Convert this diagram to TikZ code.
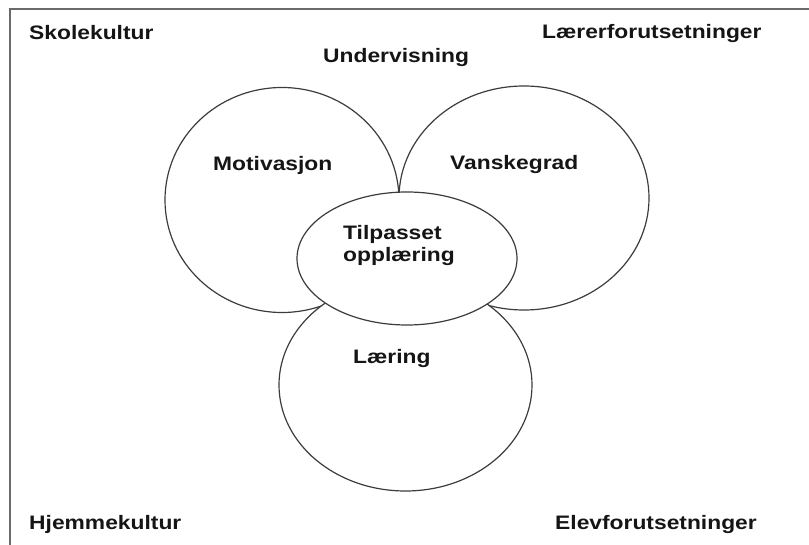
\documentclass[tikz,border=0pt]{standalone}
\usepackage{xcolor}
\usepackage{fontspec}
\setmainfont{Liberation Sans}[FakeStretch=1.17]
\usepackage{tikz}
\usetikzlibrary{shapes.geometric}
\definecolor{linegray}{HTML}{3C3C3C}
\definecolor{framegray}{HTML}{6A6A6A}
\definecolor{textblack}{HTML}{151515}

\begin{document}
\begin{tikzpicture}[x=1pt, y=-1pt,
    ring/.style={ellipse, draw=linegray, line width=1.2pt, fill=white, inner sep=0pt},
    lbl/.style={anchor=base west, inner sep=0pt, text=textblack,
                font=\fontsize{19.5}{22}\selectfont\bfseries}]
  \useasboundingbox (0,0) rectangle (809,545);
  % frame, cut off at right and bottom
  \draw[framegray, line width=2pt] (10,9) rectangle (840,580);

  % the three circles, then the centre ellipse on top
  \node[ring, minimum width=234pt, minimum height=225pt] (motiv) at (282,200) {};
  \node[ring, minimum width=250pt, minimum height=224pt] (vansk) at (524,198) {};
  \node[ring, minimum width=253pt, minimum height=212pt] (laer) at (405.5,385) {};
  \node[ring, minimum width=220pt, minimum height=133pt] (tilp) at (407,258.5) {};

  % corner and top labels
  \node[lbl] (skole) at (29,39.5) {Skolekultur};
  \node[lbl] (underv) at (323,63) {Undervisning};
  \node[lbl] (laerer) at (542,38.5) {Lærerforutsetninger};
  \node[lbl] (hjem) at (29,529) {Hjemmekultur};
  \node[lbl] (elev) at (555,529) {Elevforutsetninger};

  % labels inside the circles
  \node[lbl] (motivlbl) at (213,171) {Motivasjon};
  \node[lbl] (vansklbl) at (450,170) {Vanskegrad};
  \node[lbl] (laerlbl) at (353,364) {Læring};
  \node[lbl, anchor=west, align=left] (tilplbl) at (343,246) {Tilpasset\\opplæring};
\end{tikzpicture}
\end{document}
